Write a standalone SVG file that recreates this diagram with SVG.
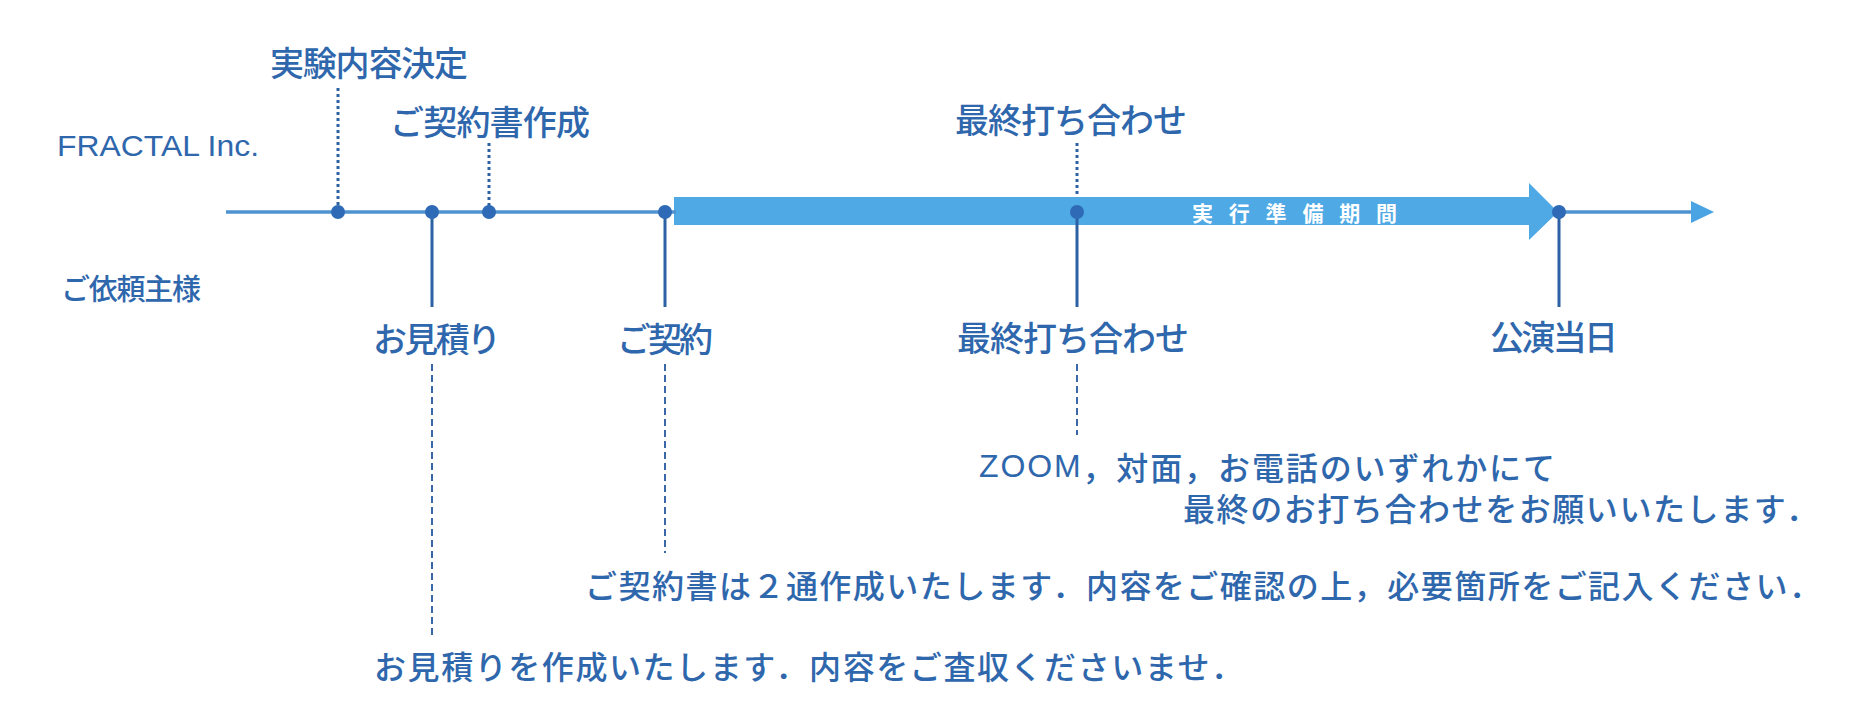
<svg xmlns="http://www.w3.org/2000/svg" width="1864" height="720" viewBox="0 0 1864 720">
<style>
text{font-family:"Noto Sans CJK JP","Noto Sans",sans-serif;fill:#2f67ad;dominant-baseline:central;font-weight:500}
.lbl{font-size:34px}
.desc{font-size:32px}
.lat{font-family:"Liberation Sans","Noto Sans",sans-serif;font-size:30px;font-weight:400}
.zoom{font-family:"Liberation Sans","Noto Sans",sans-serif;font-weight:400}
.bar-t{font-size:21px;font-weight:700;fill:#ffffff}
.dot{fill:#2e6ab5}
.solid{stroke:#2c61a3;stroke-width:3;fill:none}
.dotted{stroke:#2c61a3;stroke-width:3;stroke-dasharray:3 3;fill:none}
.dashed{stroke:#3a68a6;stroke-width:2;stroke-dasharray:7 4;fill:none}
.axis{stroke:#4f92d0;stroke-width:3.5;fill:none}
</style>
<defs>
<marker id="arr" markerWidth="23" markerHeight="22" refX="0" refY="11" orient="auto" markerUnits="userSpaceOnUse">
<path d="M0,0 L23,11 L0,22 Z" fill="#4aa4e4"/>
</marker>
</defs>
<rect width="1864" height="720" fill="#ffffff"/>
<g id="lanes">
<text class="lat" x="57" y="145" textLength="202" lengthAdjust="spacingAndGlyphs">FRACTAL Inc.</text>
<text style="font-size:29px" x="61" y="287" textLength="140" lengthAdjust="spacing">ご依頼主様</text>
</g>
<g id="period">
<path d="M674,197 H1529 V183 L1558,212 L1529,240 V225 H674 Z" fill="#4ea9e5"/>
<text class="bar-t" x="1192" y="212" textLength="205" lengthAdjust="spacing">実行準備期間</text>
</g>
<g id="connectors">
<line class="axis" x1="226" y1="212" x2="676" y2="212"/>
<line class="axis" x1="1556" y1="212" x2="1691" y2="212" marker-end="url(#arr)"/>
<line class="dotted" x1="338" y1="88" x2="338" y2="212"/>
<line class="dotted" x1="489" y1="143" x2="489" y2="212"/>
<line class="dotted" x1="1077" y1="143" x2="1077" y2="197"/>
<line class="solid" x1="432" y1="212" x2="432" y2="307"/>
<line class="solid" x1="665" y1="212" x2="665" y2="307"/>
<line class="solid" x1="1077" y1="212" x2="1077" y2="307"/>
<line class="solid" x1="1559" y1="212" x2="1559" y2="307"/>
<line class="dashed" x1="432" y1="364" x2="432" y2="638"/>
<line class="dashed" x1="665" y1="364" x2="665" y2="553"/>
<line class="dashed" x1="1077" y1="364" x2="1077" y2="435"/>
</g>
<g id="n-jikken">
<circle class="dot" cx="338" cy="212" r="7"/>
<text class="lbl" x="270" y="61" textLength="198" lengthAdjust="spacing">実験内容決定</text>
</g>
<g id="n-mitsumori">
<circle class="dot" cx="432" cy="212" r="7"/>
<text class="lbl" x="373" y="337" textLength="128" lengthAdjust="spacing">お見積り</text>
<text class="desc" x="374" y="665" textLength="869" lengthAdjust="spacing">お見積りを作成いたします．内容をご査収くださいませ．</text>
</g>
<g id="n-keiyakusho">
<circle class="dot" cx="489" cy="212" r="7"/>
<text class="lbl" x="390" y="120" textLength="200" lengthAdjust="spacing">ご契約書作成</text>
</g>
<g id="n-keiyaku">
<circle class="dot" cx="665" cy="212" r="7"/>
<text class="lbl" x="617" y="337" textLength="96" lengthAdjust="spacing">ご契約</text>
<text class="desc" x="585" y="584" textLength="1236" lengthAdjust="spacing">ご契約書は２通作成いたします．内容をご確認の上，必要箇所をご記入ください．</text>
</g>
<g id="n-saishu">
<circle class="dot" cx="1077" cy="212" r="7"/>
<text class="lbl" x="955" y="118" textLength="232" lengthAdjust="spacing">最終打ち合わせ</text>
<text class="lbl" x="957" y="336" textLength="232" lengthAdjust="spacing">最終打ち合わせ</text>
<text class="desc" x="979" y="466" textLength="576" lengthAdjust="spacing"><tspan class="zoom">ZOOM</tspan>，対面，お電話のいずれかにて</text>
<text class="desc" x="1183" y="507" textLength="635" lengthAdjust="spacing">最終のお打ち合わせをお願いいたします．</text>
</g>
<g id="n-koen">
<circle class="dot" cx="1559" cy="212" r="7"/>
<text class="lbl" x="1490" y="335" textLength="128" lengthAdjust="spacing">公演当日</text>
</g>
</svg>
